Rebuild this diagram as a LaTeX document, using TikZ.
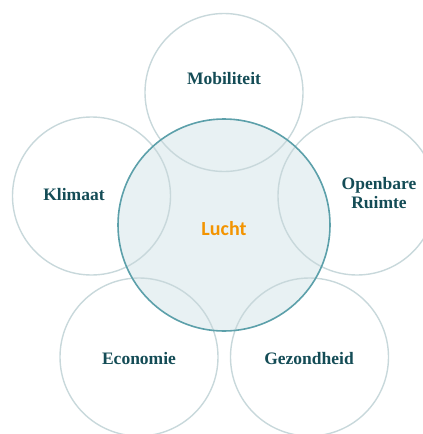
\documentclass[tikz,border=0pt]{standalone}
\usepackage{fontspec}
\setmainfont{Liberation Serif}
\newfontfamily\luchtfont{Carlito}
\usepackage{xcolor}
\definecolor{ringgrey}{RGB}{200,216,219}
\definecolor{luchtfill}{RGB}{232,241,243}
\definecolor{luchtline}{RGB}{92,160,170}
\definecolor{darkteal}{RGB}{20,76,86}
\definecolor{luchtorange}{RGB}{243,148,0}
\usepackage{tikz}
\usetikzlibrary{positioning}

\tikzset{
  ring/.style={circle,minimum size=158pt,inner sep=0pt,draw=ringgrey,line width=1.4pt},
  theme/.style={font=\bfseries\fontsize{17.5}{19}\selectfont,text=darkteal,align=center},
}

\begin{document}
\begin{tikzpicture}[x=1pt,y=-1pt]
\useasboundingbox (0,0) rectangle (423,434);
\clip (0,0) rectangle (423,434);
% centre circle, fill first
\node (luchtbg) at (224,225) [circle,minimum size=212pt,inner sep=0pt,fill=luchtfill]{};
% the five rings
\node (mobring) at (224,92.5) [ring]{};
\node (klimring) at (91.5,196) [ring]{};
\node (openring) at (357,196) [ring]{};
\node (ecoring) at (139,357) [ring]{};
\node (gezring) at (309.5,357) [ring]{};
% centre circle outline on top
\node (lucht) at (224,225) [circle,minimum size=212pt,inner sep=0pt,draw=luchtline,line width=1.6pt]{};
\node at (224,229) [font=\luchtfont\bfseries\fontsize{20}{20}\selectfont,text=luchtorange]{Lucht};
% labels
\node (mob) at (224,79) [theme]{Mobiliteit};
\node (klim) at (74,195) [theme]{Klimaat};
\node (open) at (379,193) [theme]{Openbare\\Ruimte};
\node (eco) at (139,359) [theme]{Economie};
\node (gez) at (309,359) [theme]{Gezondheid};
\end{tikzpicture}
\end{document}
